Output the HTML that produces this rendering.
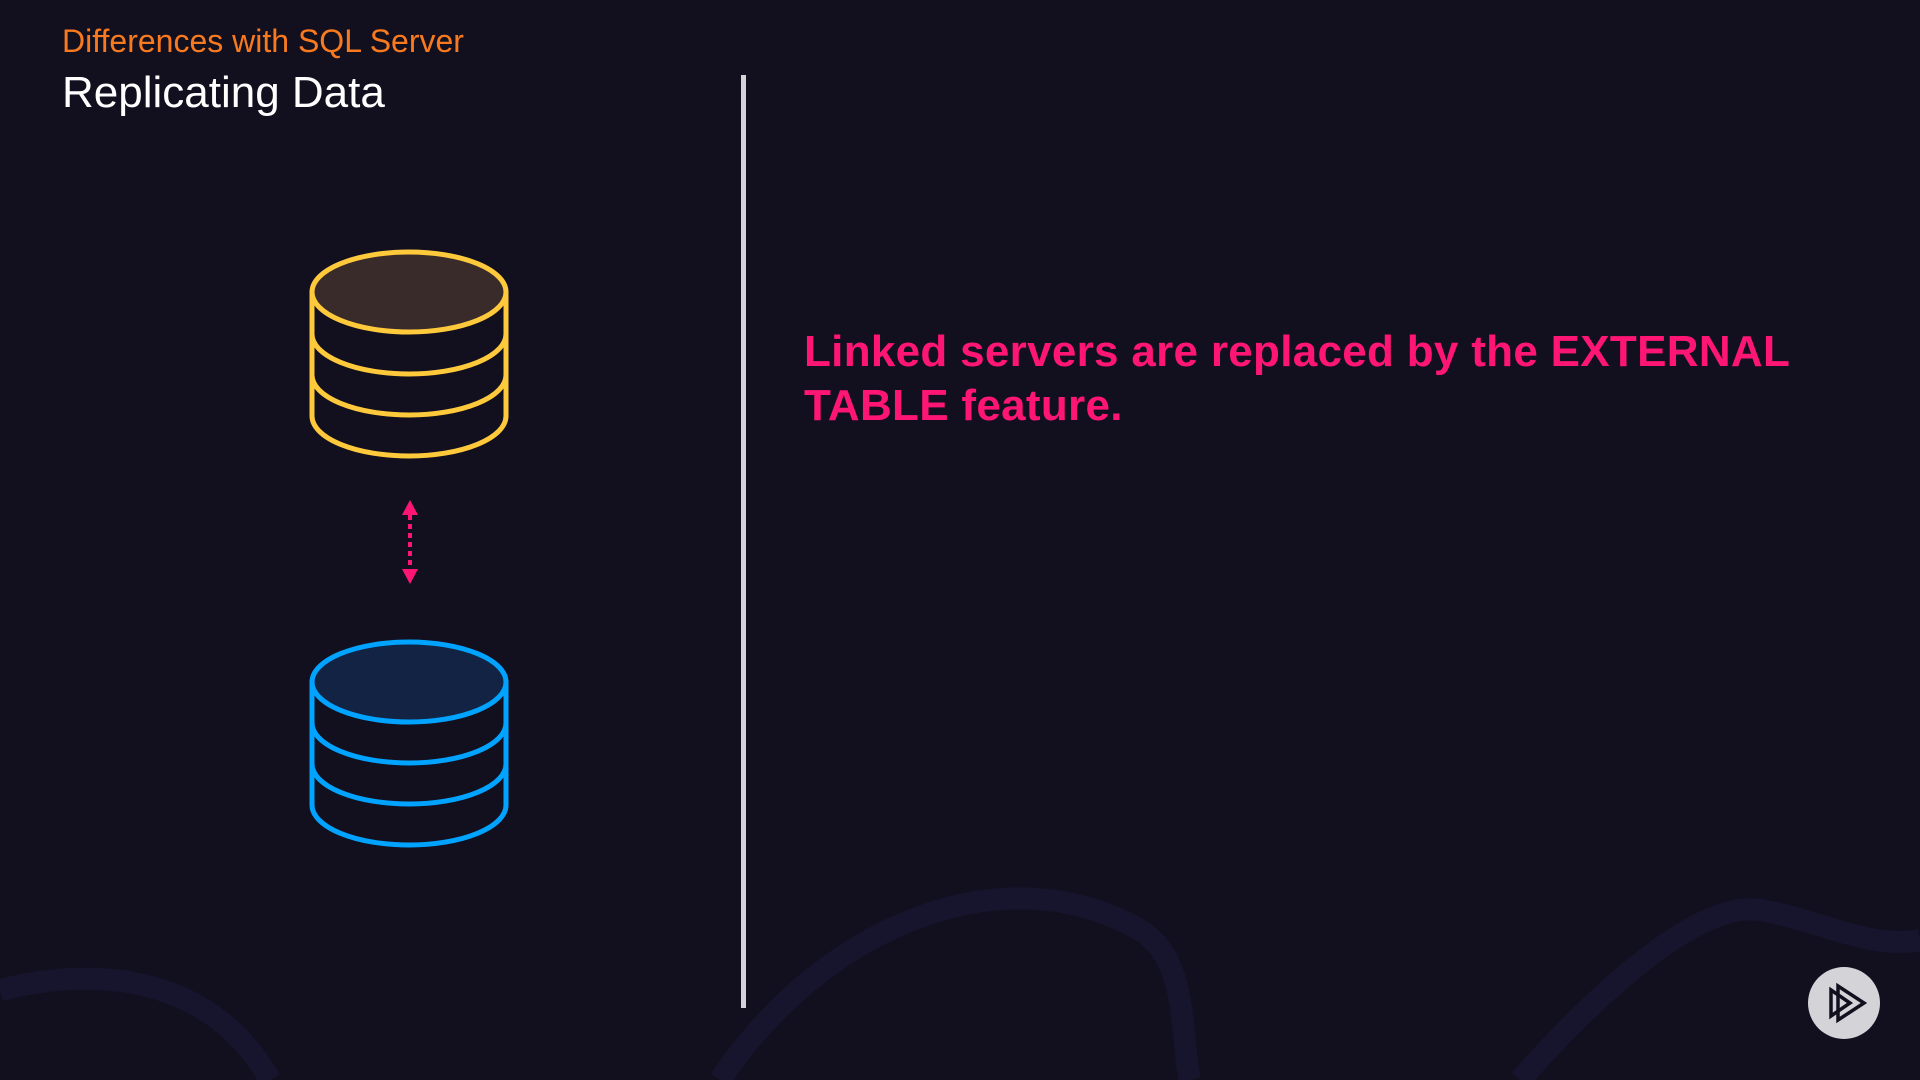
<!DOCTYPE html>
<html><head><style>
html,body{margin:0;padding:0;}
body{width:1920px;height:1080px;background:#12101f;position:relative;overflow:hidden;font-family:"Liberation Sans",sans-serif;}
.t1{position:absolute;left:62px;top:23px;font-size:32px;color:#f97a1e;white-space:nowrap;}
.t2{position:absolute;left:62px;top:68px;font-size:44px;color:#fff;white-space:nowrap;}
.line{position:absolute;left:741px;top:75px;width:5px;height:933px;background:#d4d4d8;}
.txt{position:absolute;left:804px;top:325px;font-size:44px;line-height:54px;font-weight:bold;color:#ff1675;white-space:nowrap;letter-spacing:0.3px;}
</style></head><body>
<svg width="1920" height="1080" style="position:absolute;left:0;top:0">
<g fill="none" stroke="#1a1734" stroke-width="22" opacity="0.7">
<path d="M0 990 C120 960 220 990 270 1080"/>
<path d="M720 1080 C820 930 1000 850 1140 930 C1190 960 1180 1040 1190 1080"/>
<path d="M1520 1080 C1600 990 1700 900 1760 910 C1820 920 1870 950 1920 940"/>
</g>
<g fill="none" stroke="#ffc93c" stroke-width="5">
<ellipse cx="409" cy="292" rx="97" ry="40" fill="#3a2b2b"/>
<path d="M312 292 V416 A97 40 0 0 0 506 416 V292"/>
<path d="M312 334 A97 40 0 0 0 506 334"/>
<path d="M312 375 A97 40 0 0 0 506 375"/>
</g>
<g fill="none" stroke="#00a3ff" stroke-width="5">
<ellipse cx="409" cy="682" rx="97" ry="40" fill="#122343"/>
<path d="M312 682 V805 A97 40 0 0 0 506 805 V682"/>
<path d="M312 723 A97 40 0 0 0 506 723"/>
<path d="M312 764 A97 40 0 0 0 506 764"/>
</g>
<line x1="410" y1="515" x2="410" y2="570" stroke="#ff1675" stroke-width="4" stroke-dasharray="5 4"/>
<polygon points="410,500 402,515 418,515" fill="#ff1675"/>
<polygon points="410,584 402,569 418,569" fill="#ff1675"/>
<circle cx="1844" cy="1003" r="36" fill="#d4d4d8"/>
<g fill="none" stroke="#12101f" stroke-width="3.5" stroke-linejoin="miter">
<polygon points="1831,990 1831,1016 1850,1003"/>
<polygon points="1838,986 1838,1020 1864,1003"/>
</g>
</svg>
<div class="t1">Differences with SQL Server</div>
<div class="t2">Replicating Data</div>
<div class="line"></div>
<div class="txt">Linked servers are replaced by the EXTERNAL<br>TABLE feature.</div>
</body></html>
